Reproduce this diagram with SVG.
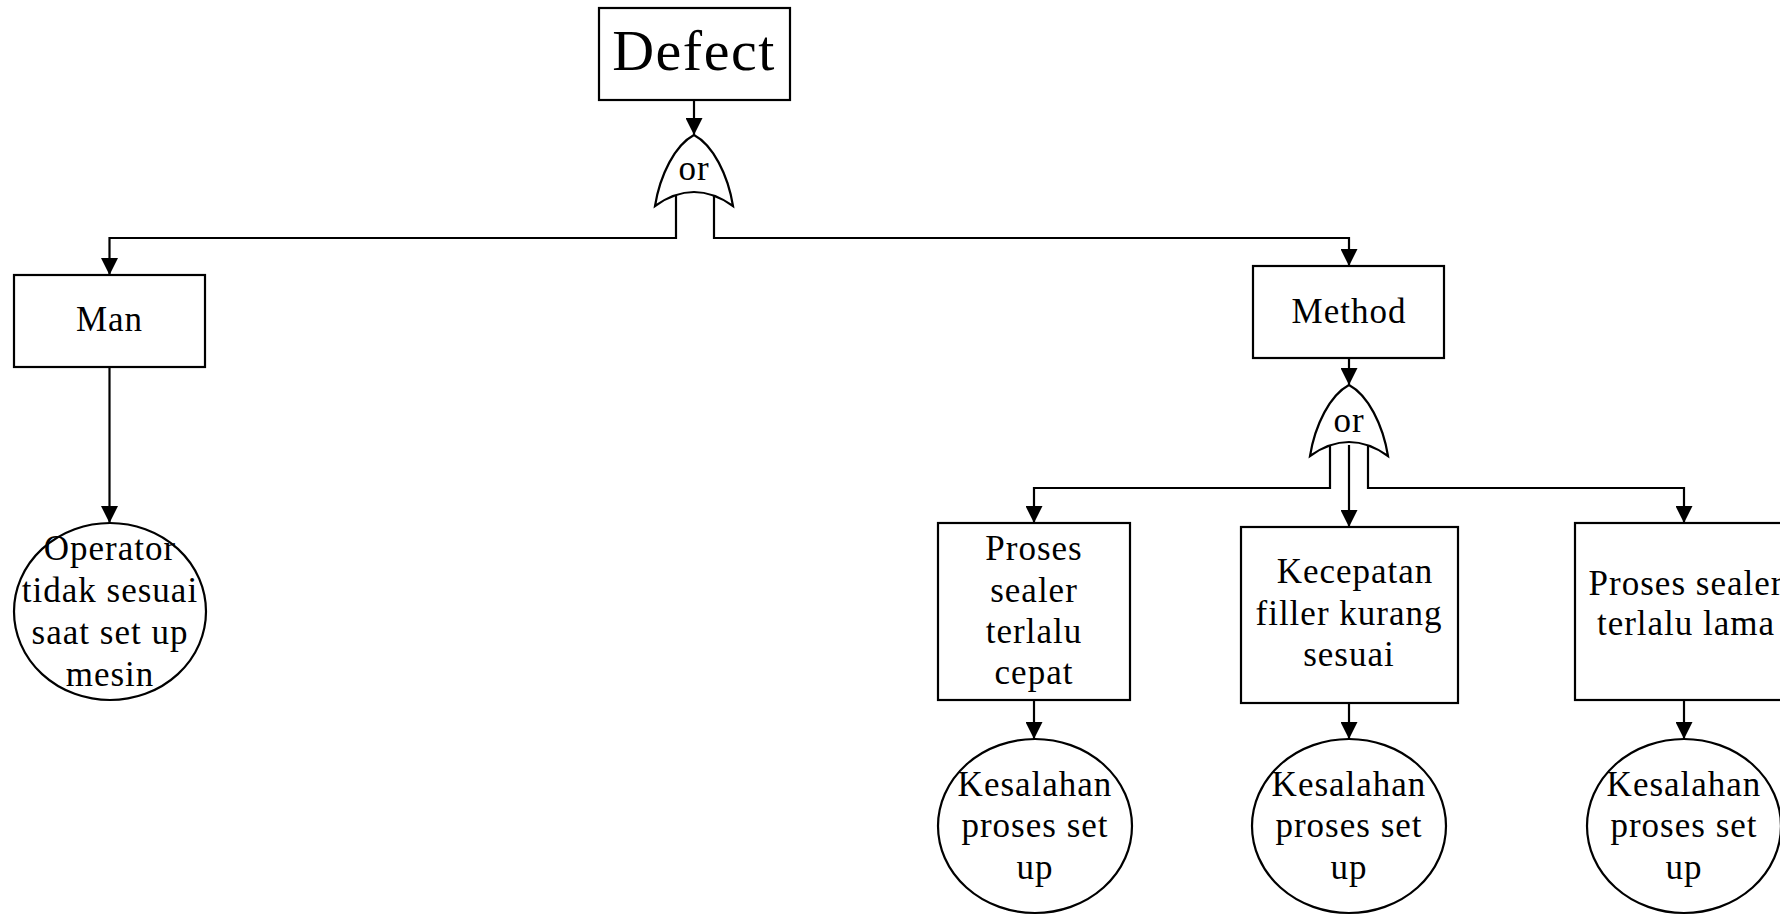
<svg xmlns="http://www.w3.org/2000/svg" width="1780" height="915" viewBox="0 0 1780 915">
<style>
.box{fill:#fff;stroke:#000;stroke-width:2.2}
.gate{fill:#fff;stroke:#000;stroke-width:2.2;stroke-linejoin:miter}
.con{fill:none;stroke:#000;stroke-width:2.2}
text{font-family:"Liberation Serif","Times New Roman",serif;font-size:35px;letter-spacing:1px;fill:#000;text-anchor:middle}
.big{font-size:58px;letter-spacing:1.5px}
</style>
<defs>
<marker id="arr" viewBox="0 0 17 17" refX="17" refY="8.5" markerWidth="17" markerHeight="17" markerUnits="userSpaceOnUse" orient="auto">
<path d="M0,0 L17,8.5 L0,17 Z" fill="#000"/>
</marker>
</defs>
<rect width="1780" height="915" fill="#fff"/>
<g id="connectors">
<path class="con" marker-end="url(#arr)" d="M694,100 L694,135"/>
<path class="con" marker-end="url(#arr)" d="M676,195 L676,238 L109.5,238 L109.5,275"/>
<path class="con" marker-end="url(#arr)" d="M714,195 L714,238 L1349,238 L1349,266"/>
<path class="con" marker-end="url(#arr)" d="M109.5,367 L109.5,523"/>
<path class="con" marker-end="url(#arr)" d="M1349,358 L1349,385"/>
<path class="con" marker-end="url(#arr)" d="M1330,445 L1330,488 L1034,488 L1034,523"/>
<path class="con" marker-end="url(#arr)" d="M1349,445 L1349,527"/>
<path class="con" marker-end="url(#arr)" d="M1368,445 L1368,488 L1684,488 L1684,523"/>
<path class="con" marker-end="url(#arr)" d="M1034,700 L1034,739"/>
<path class="con" marker-end="url(#arr)" d="M1349,703 L1349,739"/>
<path class="con" marker-end="url(#arr)" d="M1684,700 L1684,739"/>
</g>
<g id="defect">
<rect class="box" x="599" y="8" width="191" height="92"/>
<text class="big" x="694" y="70">Defect</text>
</g>
<g id="gate-or-1">
<path class="gate" d="M694,135 C675,145 660,175 655,206 Q694,178 733,206 C728,175 713,145 694,135 Z"/>
<text x="694" y="180">or</text>
</g>
<g id="man">
<rect class="box" x="14" y="275" width="191" height="92"/>
<text x="109.5" y="331">Man</text>
</g>
<g id="operator">
<ellipse class="box" cx="110" cy="611.5" rx="96" ry="88.5"/>
<text x="110" y="560">Operator</text>
<text x="110" y="602">tidak sesuai</text>
<text x="110" y="644">saat set up</text>
<text x="110" y="686">mesin</text>
</g>
<g id="method">
<rect class="box" x="1253" y="266" width="191" height="92"/>
<text x="1349" y="323">Method</text>
</g>
<g id="gate-or-2">
<path class="gate" d="M1349,385 C1330,395 1315,425 1310,456 Q1349,428 1388,456 C1383,425 1368,395 1349,385 Z"/>
<text x="1349" y="432">or</text>
</g>
<g id="proses-cepat">
<rect class="box" x="938" y="523" width="192" height="177"/>
<text x="1034" y="560">Proses</text>
<text x="1034" y="602">sealer</text>
<text x="1034" y="643">terlalu</text>
<text x="1034" y="684">cepat</text>
</g>
<g id="kecepatan-filler">
<rect class="box" x="1241" y="527" width="217" height="176"/>
<text x="1355" y="583">Kecepatan</text>
<text x="1349" y="625">filler kurang</text>
<text x="1349" y="666">sesuai</text>
</g>
<g id="proses-lama">
<rect class="box" x="1575" y="523" width="218" height="177"/>
<text x="1686" y="595">Proses sealer</text>
<text x="1686" y="635">terlalu lama</text>
</g>
<g id="kesalahan-1">
<ellipse class="box" cx="1035" cy="826" rx="97" ry="87"/>
<text x="1035" y="796">Kesalahan</text>
<text x="1035" y="837">proses set</text>
<text x="1035" y="879">up</text>
</g>
<g id="kesalahan-2">
<ellipse class="box" cx="1349" cy="826" rx="97" ry="87"/>
<text x="1349" y="796">Kesalahan</text>
<text x="1349" y="837">proses set</text>
<text x="1349" y="879">up</text>
</g>
<g id="kesalahan-3">
<ellipse class="box" cx="1684" cy="826" rx="97" ry="87"/>
<text x="1684" y="796">Kesalahan</text>
<text x="1684" y="837">proses set</text>
<text x="1684" y="879">up</text>
</g>
</svg>
